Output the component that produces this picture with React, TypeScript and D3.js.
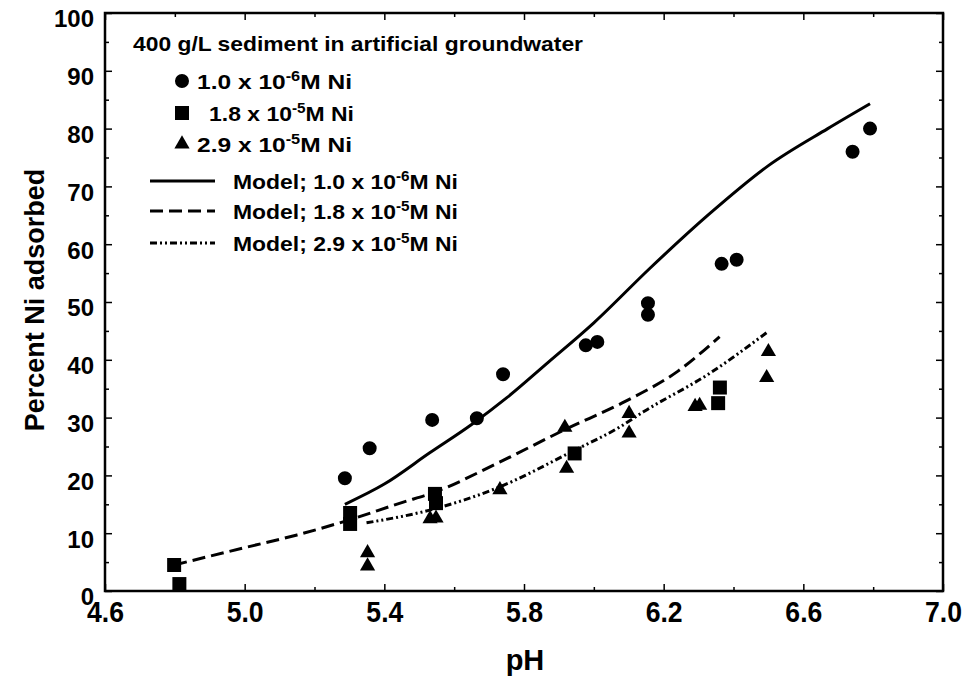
import * as d3 from "d3";
import { useEffect, useRef } from "react";

const width = 965;
const height = 677;

// axis ticks
const xTicks = [4.6, 5.0, 5.4, 5.8, 6.2, 6.6, 7.0];
const xMinor = [4.8, 5.2, 5.6, 6.0, 6.4, 6.8];
const yTicks = [0, 10, 20, 30, 40, 50, 60, 70, 80, 90, 100];
const yMinor = [5, 15, 25, 35, 45, 55, 65, 75, 85, 95];

// measured points [pH, % adsorbed]
const lowNi: [number, number][] = [
  [5.287, 19.5], [5.358, 24.7], [5.537, 29.6], [5.665, 29.9], [5.74, 37.5],
  [5.977, 42.5], [6.01, 43.1], [6.155, 47.8], [6.155, 49.8], [6.366, 56.6],
  [6.409, 57.3], [6.741, 76.0], [6.791, 80.0],
];
const midNi: [number, number][] = [
  [4.798, 4.5], [4.813, 1.2], [5.302, 13.5], [5.302, 11.6], [5.545, 16.8],
  [5.548, 15.2], [5.945, 23.8], [6.361, 35.2], [6.356, 32.5],
];
const highNi: [number, number][] = [
  [5.352, 6.6], [5.352, 4.3], [5.531, 12.5], [5.548, 12.6], [5.731, 17.5],
  [5.922, 21.2], [5.917, 28.3], [6.101, 30.7], [6.101, 27.3], [6.29, 31.9],
  [6.303, 32.1], [6.5, 41.4], [6.495, 36.9],
];

// model curves
const modelLow: [number, number][] = [
  [5.287, 15.0], [5.4, 18.5], [5.53, 23.9], [5.65, 28.8], [5.75, 33.4],
  [5.87, 39.6], [6.0, 46.4], [6.16, 55.8], [6.33, 65.2], [6.5, 73.6],
  [6.67, 80.0], [6.791, 84.3],
];
const modelMid: [number, number][] = [
  [4.798, 4.5], [5.0, 7.5], [5.15, 9.7], [5.3, 12.3], [5.45, 15.3],
  [5.54, 17.0], [5.73, 22.3], [5.92, 28.0], [6.09, 32.8], [6.24, 38.0],
  [6.36, 44.0],
];
const modelHigh: [number, number][] = [
  [5.349, 11.8], [5.53, 14.0], [5.722, 17.8], [5.94, 24.2], [6.075, 28.4],
  [6.142, 31.0], [6.333, 37.7], [6.495, 44.7],
];

const legendTitle = "400 g/L sediment in artificial groundwater";
const concLabels = [
  { mant: "1.0 x 10", exp: "-6" },
  { mant: "1.8 x 10", exp: "-5" },
  { mant: "2.9 x 10", exp: "-5" },
];

const FONT = "'Liberation Sans', Arial, sans-serif";

export default function App() {
  const svgRef = useRef<SVGSVGElement>(null);

  useEffect(() => {
    const svg = d3.select(svgRef.current);
    svg.selectAll("*").remove();

    const x = d3.scaleLinear().domain([4.6, 7.0]).range([105, 943]);
    const y = d3.scaleLinear().domain([0, 100]).range([591, 13]);

    svg.append("rect").attr("width", width).attr("height", height).attr("fill", "#fff");

    drawAxes(svg, x, y);
    drawModels(svg, x, y);
    drawPoints(svg, x, y);
    drawLegend(svg);
    drawTitles(svg);
  }, []);

  return (
    <svg
      ref={svgRef}
      width={width}
      height={height}
      style={{ position: "absolute", left: 0, top: 0 }}
    />
  );
}

function drawAxes(svg: any, x: any, y: any) {
  const [x0, x1] = x.range();
  const [y0, y1] = y.range();

  // major + minor, all ticks point inward
  const bottom = svg.append("g").attr("transform", `translate(0,${y0})`)
    .call(d3.axisBottom(x).tickValues(xTicks).tickSize(-7).tickPadding(10).tickFormat(d3.format(".1f")));
  svg.append("g").attr("transform", `translate(0,${y0})`)
    .call(d3.axisBottom(x).tickValues(xMinor).tickSize(-4).tickFormat(() => ""));
  svg.append("g").attr("transform", `translate(0,${y1})`)
    .call(d3.axisTop(x).tickValues(xTicks).tickSize(-7).tickFormat(() => ""));
  svg.append("g").attr("transform", `translate(0,${y1})`)
    .call(d3.axisTop(x).tickValues(xMinor).tickSize(-4).tickFormat(() => ""));

  const left = svg.append("g").attr("transform", `translate(${x0},0)`)
    .call(d3.axisLeft(y).tickValues(yTicks).tickSize(-7).tickPadding(11));
  svg.append("g").attr("transform", `translate(${x0},0)`)
    .call(d3.axisLeft(y).tickValues(yMinor).tickSize(-4).tickFormat(() => ""));
  svg.append("g").attr("transform", `translate(${x1},0)`)
    .call(d3.axisRight(y).tickValues(yTicks).tickSize(-7).tickFormat(() => ""));
  svg.append("g").attr("transform", `translate(${x1},0)`)
    .call(d3.axisRight(y).tickValues(yMinor).tickSize(-4).tickFormat(() => ""));

  svg.selectAll(".domain").remove();
  svg.selectAll(".tick line").attr("stroke", "#000").attr("stroke-width", 1.5);

  bottom.selectAll("text")
    .attr("font-family", FONT)
    .attr("font-weight", "bold")
    .attr("font-size", 30)
    .attr("textLength", 37)
    .attr("lengthAdjust", "spacingAndGlyphs")
    .attr("fill", "#000");

  left.selectAll("text")
    .attr("font-family", FONT)
    .attr("font-weight", "bold")
    .attr("font-size", 24)
    .attr("dy", "0.58em")
    .attr("fill", "#000");

  // frame
  svg.append("rect")
    .attr("x", x0)
    .attr("y", y1)
    .attr("width", x1 - x0)
    .attr("height", y0 - y1)
    .attr("fill", "none")
    .attr("stroke", "#000")
    .attr("stroke-width", 2.5);
}

function drawModels(svg: any, x: any, y: any) {
  const line = d3.line<[number, number]>()
    .x(d => x(d[0]))
    .y(d => y(d[1]))
    .curve(d3.curveMonotoneX);

  const models = [
    { data: modelLow, dash: null },
    { data: modelMid, dash: "13,6" },
    { data: modelHigh, dash: "7,3,2,3,2,3" },
  ];

  svg.append("g")
    .selectAll("path")
    .data(models)
    .join("path")
    .attr("d", (d: any) => line(d.data))
    .attr("fill", "none")
    .attr("stroke", "#000")
    .attr("stroke-width", 3)
    .attr("stroke-dasharray", (d: any) => d.dash);
}

const symbols = [
  d3.symbol().type(d3.symbolCircle).size(154),
  d3.symbol().type(d3.symbolSquare).size(196),
  d3.symbol().type(d3.symbolTriangle).size(100),
];

function drawPoints(svg: any, x: any, y: any) {
  const series = [lowNi, midNi, highNi];
  series.forEach((pts, i) => {
    svg.append("g")
      .selectAll("path")
      .data(pts)
      .join("path")
      .attr("transform", (d: [number, number]) => `translate(${x(d[0])},${y(d[1])})`)
      .attr("d", symbols[i]())
      .attr("fill", "#000");
  });
}

function addConcText(g: any, px: number, py: number, len: number, item: { mant: string; exp: string }, prefix = "") {
  const t = g.append("text")
    .attr("x", px)
    .attr("y", py)
    .attr("font-family", FONT)
    .attr("font-weight", "bold")
    .attr("font-size", 21)
    .attr("textLength", len)
    .attr("lengthAdjust", "spacingAndGlyphs")
    .attr("fill", "#000");
  t.append("tspan").text(prefix + item.mant);
  t.append("tspan").attr("dy", -8).attr("font-size", 14).text(item.exp);
  t.append("tspan").attr("dy", 8).text("M Ni");
}

function drawLegend(svg: any) {
  const g = svg.append("g");

  g.append("text")
    .attr("x", 133)
    .attr("y", 51)
    .attr("font-family", FONT)
    .attr("font-weight", "bold")
    .attr("font-size", 21)
    .attr("textLength", 450)
    .attr("lengthAdjust", "spacingAndGlyphs")
    .attr("fill", "#000")
    .text(legendTitle);

  const markerRows = [81, 113, 144];
  const textX = [197, 209, 197];
  const textLen = [155, 145, 155];
  concLabels.forEach((c, i) => {
    g.append("path")
      .attr("transform", `translate(182,${markerRows[i]})`)
      .attr("d", symbols[i]())
      .attr("fill", "#000");
    addConcText(g, textX[i], markerRows[i] + 8, textLen[i], c);
  });

  const lineRows = [181, 211, 243];
  const dashes = [null, "13,6", "7,3,2,3,2,3"];
  concLabels.forEach((c, i) => {
    g.append("line")
      .attr("x1", 150)
      .attr("x2", 215)
      .attr("y1", lineRows[i])
      .attr("y2", lineRows[i])
      .attr("stroke", "#000")
      .attr("stroke-width", 3)
      .attr("stroke-dasharray", dashes[i]);
    addConcText(g, 233, lineRows[i] + 8, 225, c, "Model; ");
  });
}

function drawTitles(svg: any) {
  svg.append("text")
    .attr("x", 525)
    .attr("y", 670)
    .attr("text-anchor", "middle")
    .attr("font-family", FONT)
    .attr("font-weight", "bold")
    .attr("font-size", 29)
    .attr("fill", "#000")
    .text("pH");

  svg.append("text")
    .attr("transform", "translate(44,300) rotate(-90)")
    .attr("text-anchor", "middle")
    .attr("font-family", FONT)
    .attr("font-weight", "bold")
    .attr("font-size", 27)
    .attr("fill", "#000")
    .text("Percent Ni adsorbed");
}
